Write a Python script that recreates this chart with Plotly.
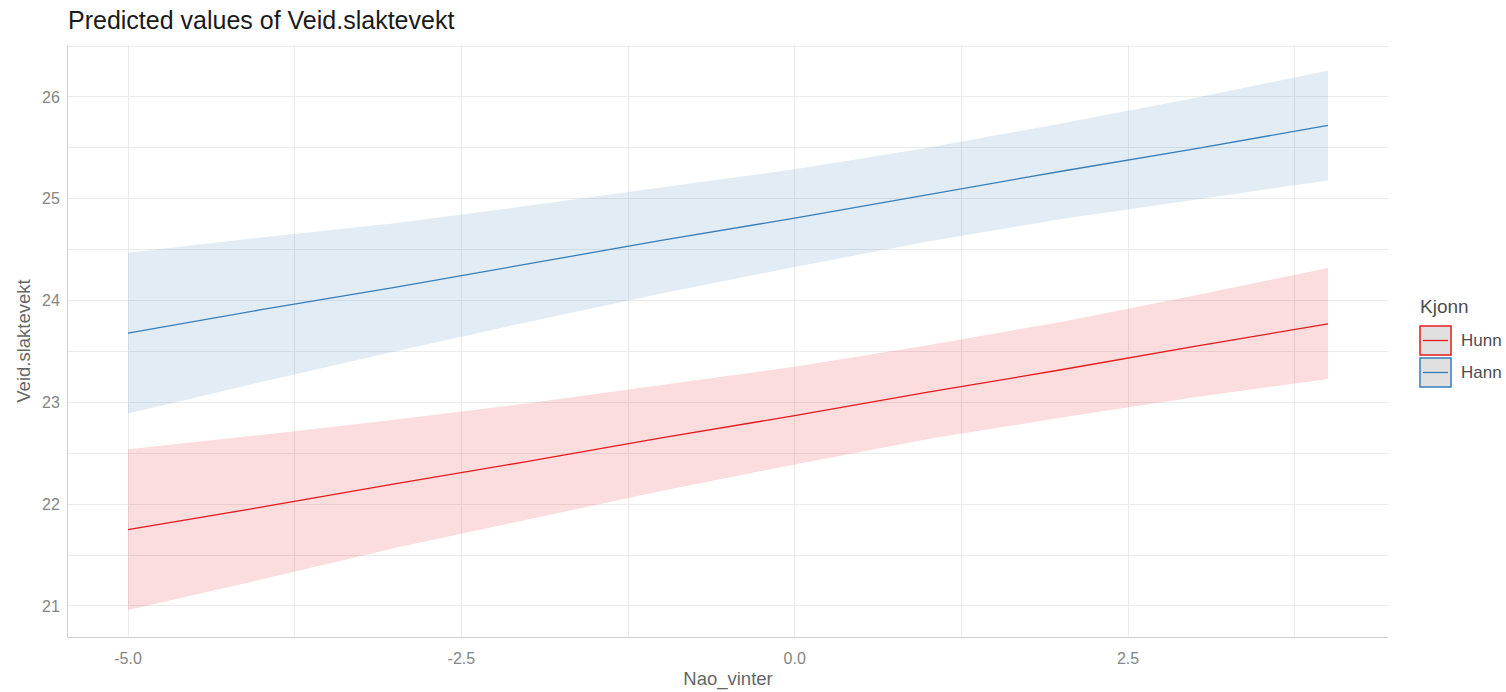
import plotly.graph_objects as go

# Data
nao = [-5, -4, -3, -2, -1, 0, 1, 2, 3, 4]

hunn_pred = [21.75, 21.97, 22.20, 22.42, 22.65, 22.87, 23.10, 23.32, 23.55, 23.77]
hunn_low = [20.96, 21.26, 21.57, 21.85, 22.13, 22.39, 22.64, 22.85, 23.05, 23.23]
hunn_high = [22.54, 22.68, 22.83, 22.99, 23.17, 23.35, 23.56, 23.79, 24.05, 24.32]

hann_pred = [23.68, 23.91, 24.13, 24.36, 24.59, 24.81, 25.04, 25.27, 25.49, 25.72]
hann_low = [22.89, 23.20, 23.50, 23.79, 24.07, 24.33, 24.58, 24.80, 24.99, 25.18]
hann_high = [24.47, 24.62, 24.76, 24.93, 25.11, 25.29, 25.50, 25.74, 25.99, 26.26]

groups = ["Hunn", "Hann"]
x_ticks = [-5.0, -2.5, 0.0, 2.5]
x_tick_text = ["-5.0", "-2.5", "0.0", "2.5"]
y_ticks = [21, 22, 23, 24, 25, 26]

RED = "#E41A1C"
BLUE = "#377EB8"
FONT = "Liberation Sans, Arial, sans-serif"

W, H = 1506, 692
L, R, T, B = 68, 118, 45, 55

fig = go.Figure()

series = [
    ("Hunn", hunn_low, hunn_high, hunn_pred, RED, "rgba(228,26,28,0.15)"),
    ("Hann", hann_low, hann_high, hann_pred, BLUE, "rgba(55,126,184,0.15)"),
]

for name, lo, hi, pred, col, fill in series:
    fig.add_trace(go.Scatter(x=nao, y=lo, mode="lines", line=dict(width=0),
                             showlegend=False, hoverinfo="skip"))
    fig.add_trace(go.Scatter(x=nao, y=hi, mode="lines", line=dict(width=0),
                             fill="tonexty", fillcolor=fill,
                             showlegend=False, hoverinfo="skip"))

for name, lo, hi, pred, col, fill in series:
    fig.add_trace(go.Scatter(x=nao, y=pred, mode="lines", name=name,
                             line=dict(color=col, width=1.3), showlegend=False))

# hand-drawn legend to mimic ggplot keys (positions in page pixels)
def px_x(p):
    return (p - L) / (W - L - R)

def px_y(p):
    return (H - B - p) / (H - T - B)

shapes = []
annotations = []
key_rows = [(326, 355, RED, "Hunn"), (358, 387, BLUE, "Hann")]
for top, bot, col, label in key_rows:
    shapes.append(dict(type="rect", xref="paper", yref="paper",
                       x0=px_x(1420), x1=px_x(1451), y0=px_y(bot), y1=px_y(top),
                       fillcolor="#E0E0E0", line=dict(color=col, width=1.5)))
    mid = (top + bot) / 2
    shapes.append(dict(type="line", xref="paper", yref="paper",
                       x0=px_x(1423), x1=px_x(1448), y0=px_y(mid), y1=px_y(mid),
                       line=dict(color=col, width=1.3)))
    annotations.append(dict(text=label, xref="paper", yref="paper",
                            x=px_x(1459), y=px_y(mid), xanchor="left", yanchor="middle",
                            showarrow=False, font=dict(family=FONT, size=17, color="#4D4D4D")))

annotations.append(dict(text="Kjonn", xref="paper", yref="paper",
                        x=px_x(1418), y=px_y(306), xanchor="left", yanchor="middle",
                        showarrow=False, font=dict(family=FONT, size=19, color="#4D4D4D")))

fig.update_layout(
    width=W, height=H,
    margin=dict(l=L, r=R, t=T, b=B),
    paper_bgcolor="white", plot_bgcolor="white",
    font=dict(family=FONT),
    title=dict(text="Predicted values of Veid.slaktevekt", x=L / W, xanchor="left",
               y=1 - 20 / H, yanchor="middle", yref="container",
               font=dict(family=FONT, size=25, color="#1A1A1A")),
    shapes=shapes,
    annotations=annotations,
    showlegend=False,
)

fig.update_xaxes(
    range=[-5.45, 4.45], tickvals=x_ticks, ticktext=x_tick_text, automargin=False,
    showgrid=True, gridcolor="#EBEBEB", gridwidth=1,
    minor=dict(dtick=1.25, tick0=0, showgrid=True, gridcolor="#EBEBEB", gridwidth=1),
    zeroline=False, showline=True, linecolor="#D0D0D0", linewidth=1,
    ticks="outside", ticklen=7, tickcolor="rgba(0,0,0,0)",
    tickfont=dict(size=16, color="#858585"),
    title=dict(text="Nao_vinter", font=dict(size=18.5, color="#666666"), standoff=5),
)

fig.update_yaxes(
    range=[20.695, 26.51], tickvals=y_ticks, automargin=False,
    showgrid=True, gridcolor="#EBEBEB", gridwidth=1,
    minor=dict(dtick=0.5, tick0=0, showgrid=True, gridcolor="#EBEBEB", gridwidth=1),
    zeroline=False, showline=True, linecolor="#D0D0D0", linewidth=1,
    ticks="outside", ticklen=4, tickcolor="rgba(0,0,0,0)",
    tickfont=dict(size=16, color="#858585"),
    title=dict(text="Veid.slaktevekt", font=dict(size=18.5, color="#666666"), standoff=6),
)

# drop the default 8px body margin so the figure fills the window exactly
fig.write_html("out.html", config={"displayModeBar": False},
               post_script="document.body.style.margin='0';")
